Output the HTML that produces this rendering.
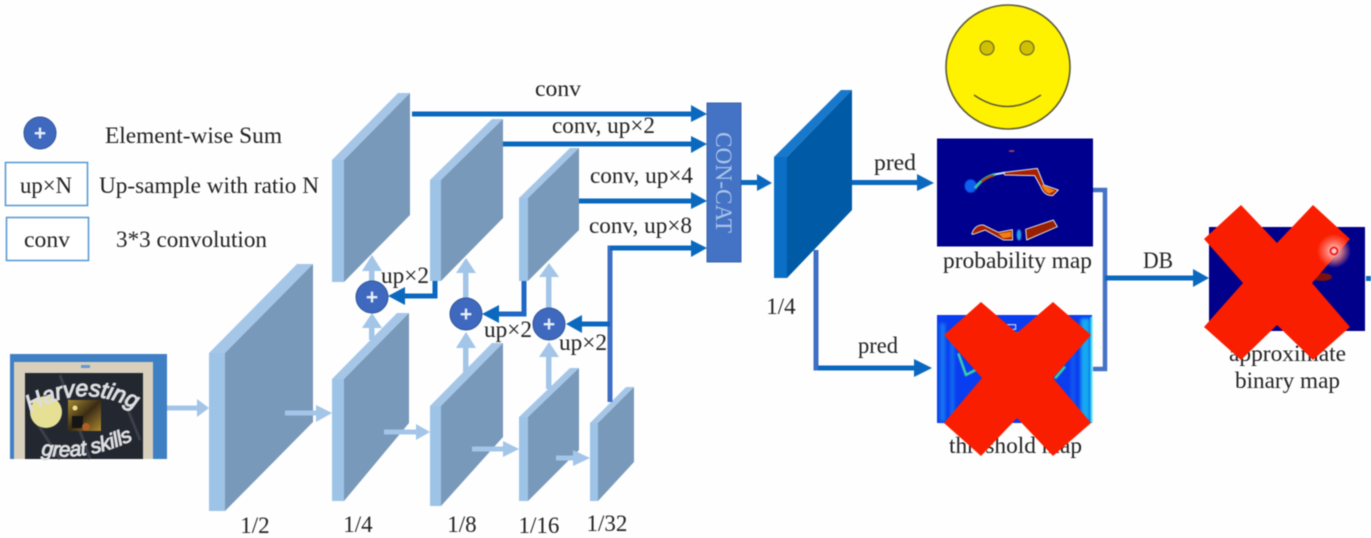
<!DOCTYPE html>
<html><head><meta charset="utf-8"><style>
html,body{margin:0;padding:0;background:#fff;width:1371px;height:538px;overflow:hidden}
svg{display:block;filter:blur(.5px)}
text{font-family:"Liberation Serif",serif;font-size:23px;fill:#222}
.s{fill:#9dc3e6}.t{fill:#a6c6e8}.f{fill:#7899ba}
.la{fill:#a3c5e8}.da{fill:#0a69bf}
.c{fill:#3f69bf;stroke:#2f5597;stroke-width:1}
.p{font-family:"Liberation Sans",sans-serif;font-size:21px;font-weight:bold;fill:#e8effa}
</style></head><body>
<svg width="1371" height="538" viewBox="0 0 1371 538" xmlns="http://www.w3.org/2000/svg">
<defs>
<radialGradient id="g"><stop offset="0" stop-color="#fff" stop-opacity=".95"/><stop offset=".5" stop-color="#ff8a80" stop-opacity=".75"/><stop offset="1" stop-color="#ff8a80" stop-opacity="0"/></radialGradient>
<linearGradient id="gold" x1="0" x2="1" y1="0" y2="1"><stop offset="0" stop-color="#a88a30"/><stop offset=".5" stop-color="#3a2c14"/><stop offset="1" stop-color="#b08a30"/></linearGradient>
<filter id="b2"><feGaussianBlur stdDeviation="1.2"/></filter>
<filter id="b3"><feGaussianBlur stdDeviation="5"/></filter>
<path id="h1" d="M30 412 Q85 380 140 412"/>
<path id="h2" d="M41 455 Q90 462 137 438"/>
</defs>
<rect width="1371" height="538" fill="#fefefe"/>

<!-- legend -->
<circle class="c" cx="40" cy="133" r="16"/><text class="p" x="40" y="140" text-anchor="middle">+</text>
<text x="105" y="143" textLength="177" lengthAdjust="spacingAndGlyphs">Element-wise Sum</text>
<rect x="5.5" y="162.5" width="82" height="43" fill="#fff" stroke="#5b9bd5" stroke-width="1.6"/>
<text x="20" y="193" textLength="52" lengthAdjust="spacingAndGlyphs">up×N</text>
<text x="99" y="193" textLength="220" lengthAdjust="spacingAndGlyphs">Up-sample with ratio N</text>
<rect x="6.5" y="217.5" width="82" height="43" fill="#fff" stroke="#5b9bd5" stroke-width="1.6"/>
<text x="24" y="247" textLength="46" lengthAdjust="spacingAndGlyphs">conv</text>
<text x="116" y="247" textLength="151" lengthAdjust="spacingAndGlyphs">3*3 convolution</text>

<!-- photo -->
<rect x="10" y="354" width="157" height="105" fill="#3f80c4"/>
<rect x="14" y="362" width="139" height="97" fill="#d8d0bc"/>
<rect x="10" y="366" width="4" height="93" fill="#3f80c4"/>
<rect x="25" y="373" width="118" height="86" fill="#23272f"/>
<rect x="81" y="365" width="9" height="3" fill="#5f9ad0"/>
<path d="M35 420L60 459M60 375L90 459M120 390L140 440" stroke="#3a3f4a" stroke-width="3" fill="none"/>
<circle cx="46" cy="412" r="16" fill="#e6e095"/>
<rect x="68" y="400" width="33" height="31" fill="url(#gold)"/>
<circle cx="75" cy="408" r="2.5" fill="#f0e090"/>
<rect x="72" y="416" width="11" height="12" fill="#151515"/>
<circle cx="86" cy="427" r="4" fill="#b06020"/>
<text style="font-family:'Liberation Sans',sans-serif;font-size:23px;font-style:italic;fill:#dcdde0;stroke:#dcdde0;stroke-width:1.1"><textPath href="#h1" textLength="110">Harvesting</textPath></text>
<text style="font-family:'Liberation Sans',sans-serif;font-size:21px;font-style:italic;fill:#dcdde0;stroke:#dcdde0;stroke-width:1"><textPath href="#h2" textLength="95">great skills</textPath></text>

<!-- lower layers -->
<polygon class="t" points="209,353 297,264 313,264 225,353"/><polygon class="s" points="209,353 225,353 225,511 209,511"/><polygon class="f" points="225,353 313,264 313,422 225,511"/>
<polygon class="t" points="332,379 397,313 409,313 344,379"/><polygon class="s" points="332,379 344,379 344,501 332,501"/><polygon class="f" points="344,379 409,313 409,423 344,501"/>
<polygon class="t" points="430,406 492,343 503,343 441,406"/><polygon class="s" points="430,406 441,406 441,506 430,506"/><polygon class="f" points="441,406 503,343 503,437 441,506"/>
<polygon class="t" points="519,417 570,368 579,368 528,417"/><polygon class="s" points="519,417 528,417 528,501 519,501"/><polygon class="f" points="528,417 579,368 579,450 528,501"/>
<polygon class="t" points="590,423 626,387 634,387 598,423"/><polygon class="s" points="590,423 598,423 598,501 590,501"/><polygon class="f" points="598,423 634,387 634,462 598,501"/>

<!-- upper layers -->
<polygon class="t" points="332,160 398,93 410,93 344,160"/><polygon class="s" points="332,160 344,160 344,282 332,282"/><polygon class="f" points="344,160 410,93 410,215 344,282"/>
<polygon class="t" points="430,180 492,119 503,119 441,180"/><polygon class="s" points="430,180 441,180 441,281 430,281"/><polygon class="f" points="441,180 503,119 503,218 441,281"/>
<polygon class="t" points="519,198 570,148 579,148 528,198"/><polygon class="s" points="519,198 528,198 528,281 519,281"/><polygon class="f" points="528,198 579,148 579,230 528,281"/>

<!-- light horizontal arrows -->
<g class="la">
<rect x="167" y="405.500" width="31" height="5"/><polygon points="197,399 209,408 197,417"/>
<rect x="285" y="410.500" width="32" height="5"/><polygon points="316,405 332,413 316,422"/>
<rect x="384" y="429.500" width="33" height="5"/><polygon points="416,424 430,432 416,440"/>
<rect x="472" y="446.500" width="32" height="5"/><polygon points="503,441 519,449 503,457"/>
<rect x="556" y="455.500" width="18" height="5"/><polygon points="573,450 590,458 573,466"/>
<rect x="369" y="270" width="5.500" height="12"/><polygon points="372,255 382,271 362,271"/>
<rect x="369" y="327" width="5.500" height="13"/><polygon points="372,313 382,328 362,328"/>
<rect x="463" y="272" width="5.500" height="26"/><polygon points="466,258 476,273 456,273"/>
<rect x="463" y="347" width="5.500" height="30"/><polygon points="466,332 476,348 456,348"/>
<rect x="546" y="276" width="5.500" height="33"/><polygon points="549,263 559,277 539,277"/>
<rect x="546" y="356" width="5.500" height="33"/><polygon points="549,342 559,357 539,357"/>
</g>

<!-- dark skip paths -->
<path d="M435 281V296H402" fill="none" stroke="#0a69bf" stroke-width="5"/>
<polygon class="da" points="388,296 405,287 405,305"/>
<path d="M524 281V314H496" fill="none" stroke="#1f68c4" stroke-width="5"/>
<polygon class="da" points="482,314 499,305 499,323"/>
<path d="M610 402V248H695" fill="none" stroke="#3f6fc4" stroke-width="5"/>
<path d="M610 248H695" fill="none" stroke="#0a69bf" stroke-width="5"/>
<path d="M610 324H578" fill="none" stroke="#0a69bf" stroke-width="5"/>
<polygon class="da" points="566,324 582,315 582,333"/>

<rect x="412" y="111.500" width="281" height="5" class="da"/><polygon class="da" points="691,105 707,114 691,122"/>
<rect x="503" y="141.500" width="190" height="5" class="da"/><polygon class="da" points="691,136 707,144 691,153"/>
<rect x="579" y="198.500" width="114" height="5" class="da"/><polygon class="da" points="691,192 707,201 691,209"/>
<polygon class="da" points="691,240 707,248 691,257"/>

<!-- circles -->
<circle class="c" cx="372" cy="297" r="16"/><text class="p" x="372" y="304" text-anchor="middle">+</text>
<circle class="c" cx="466" cy="314" r="16"/><text class="p" x="466" y="321" text-anchor="middle">+</text>
<circle class="c" cx="549" cy="324" r="16"/><text class="p" x="549" y="331" text-anchor="middle">+</text>

<!-- concat -->
<rect x="707" y="103" width="34" height="159" fill="#4472c4" stroke="#3a63ab"/>
<text transform="translate(716,132) rotate(90)" textLength="101" lengthAdjust="spacingAndGlyphs" style="fill:#a9c4ea">CON-CAT</text>
<rect x="741" y="180" width="18" height="5" class="da"/><polygon class="da" points="757,174 772,183 757,191"/>

<!-- dark layer -->
<path d="M816 250V368H916" fill="none" stroke="#3f6fc4" stroke-width="5"/>
<path d="M818 368H916" fill="none" stroke="#0a69bf" stroke-width="5"/>
<polygon fill="#1878cc" points="774,157 841,90 852,90 787,157"/>
<polygon fill="#0a6fc5" points="774,157 787,157 787,278 774,278"/>
<polygon fill="#005aa5" points="787,157 852,90 852,210 787,278"/>
<rect x="852" y="180" width="66" height="5" class="da"/><polygon class="da" points="917,174 934,183 917,191"/>
<polygon class="da" points="914,359 932,368 914,377"/>

<!-- bracket -->
<path d="M1093 190H1105V369H1093" fill="none" stroke="#4472c4" stroke-width="4.500"/>
<rect x="1105" y="275.500" width="90" height="5" class="da"/><polygon class="da" points="1193,269 1209,278 1193,287"/>

<!-- smiley -->
<circle cx="1008" cy="67" r="62" fill="#fff200" stroke="#5a5a3a" stroke-width="1.600"/>
<circle cx="987" cy="48" r="7" fill="#cfc000" stroke="#6a6a30" stroke-width="1.200"/>
<circle cx="1027" cy="48" r="7" fill="#cfc000" stroke="#6a6a30" stroke-width="1.200"/>
<path d="M974 95Q1007 118 1041 95" fill="none" stroke="#5a5a3a" stroke-width="1.500"/>

<!-- probability map -->
<rect x="937" y="138.500" width="156" height="108" fill="#00008e"/>
<g transform="translate(930,135) scale(.3333)">
<ellipse cx="245" cy="48" rx="9" ry="3" fill="#a04060"/>
<ellipse cx="122" cy="153" rx="18" ry="20" fill="#1060f0" filter="url(#b2)"/>
<path d="M135 160Q155 130 195 118" fill="none" stroke="#30c0a0" stroke-width="9"/>
<path d="M155 140Q170 128 190 122" fill="none" stroke="#b04010" stroke-width="7"/>
<path d="M195 118L225 113" fill="none" stroke="#d0e8ff" stroke-width="6"/>
<path d="M222 112L322 100L342 150L385 165L368 182Q342 182 332 155L314 122L224 120Z" fill="#a82000" stroke="#dce8f0" stroke-width="3" stroke-linejoin="round"/>
<path d="M335 148L375 167L358 176Q340 170 335 148Z" fill="#f08010"/>
<path d="M125 297Q135 268 160 270L205 292L247 284L248 315L220 315L165 285L130 298Z" fill="#a82000" stroke="#dce0d8" stroke-width="3" stroke-linejoin="round"/>
<path d="M205 296L243 290L244 306L220 310Z" fill="#f08010"/>
<path d="M287 283L370 255L382 275L290 315Z" fill="#982000" stroke="#dce0d8" stroke-width="3" stroke-linejoin="round"/>
<ellipse cx="267" cy="300" rx="7" ry="17" fill="#20a0f0" filter="url(#b2)"/>
</g>
<text x="943" y="268" textLength="149" lengthAdjust="spacingAndGlyphs">probability map</text>

<!-- threshold map -->
<rect x="937" y="315" width="155" height="108" fill="#0a3cf0"/>
<g transform="translate(930,310) scale(.3333)">
<g filter="url(#b3)">
<rect x="30" y="40" width="16" height="295" fill="#1878f0"/>
<rect x="62" y="70" width="10" height="265" fill="#1878f0"/>
<rect x="452" y="25" width="28" height="310" fill="#18a8f0"/>
<rect x="424" y="60" width="10" height="270" fill="#1860f0"/>
</g>
<rect x="481" y="20" width="6" height="318" fill="#30e0f0"/>
<path d="M85 130L108 195L140 178M250 72L285 68M405 170L375 205" fill="none" stroke="#40e0a0" stroke-width="7" filter="url(#b2)"/>
<rect x="233" y="44" width="24" height="14" fill="none" stroke="#dfe8ff" stroke-width="3"/>
</g>
<text x="949" y="453" textLength="133" lengthAdjust="spacingAndGlyphs">threshold map</text>
<polygon fill="#fa1e00" points="981,302 1017,333 1053,302 1091,335 1053,378 1091,423 1053,456 1017,418 981,456 944,423 982,378 944,335"/>

<!-- binary map -->
<rect x="1209" y="227" width="156" height="104" fill="#00008a"/>
<ellipse cx="1322" cy="277" rx="10" ry="4" fill="#7a1010"/>
<text x="1229" y="361" textLength="117" lengthAdjust="spacingAndGlyphs">approximate</text>
<text x="1235" y="388" textLength="105" lengthAdjust="spacingAndGlyphs">binary map</text>
<polygon fill="#fa1e00" points="1241,205 1277,243 1313,205 1350,239 1312,283 1350,327 1313,360 1277,325 1241,360 1204,327 1243,283 1204,239"/>
<circle cx="1334" cy="251" r="17" fill="url(#g)"/>
<circle cx="1334" cy="251" r="3.500" fill="#ffd0d0" stroke="#f02020" stroke-width="2"/>
<rect x="1366" y="276" width="5" height="5" fill="#0a69bf"/>

<!-- labels -->
<text x="535" y="96" textLength="46" lengthAdjust="spacingAndGlyphs">conv</text>
<text x="552" y="133" textLength="103" lengthAdjust="spacingAndGlyphs">conv, up×2</text>
<text x="590" y="183" textLength="103" lengthAdjust="spacingAndGlyphs">conv, up×4</text>
<text x="589" y="233" textLength="103" lengthAdjust="spacingAndGlyphs">conv, up×8</text>
<text x="381" y="283" textLength="48" lengthAdjust="spacingAndGlyphs">up×2</text>
<text x="484" y="337" textLength="48" lengthAdjust="spacingAndGlyphs">up×2</text>
<text x="559" y="350" textLength="48" lengthAdjust="spacingAndGlyphs">up×2</text>
<text x="874" y="170" textLength="42" lengthAdjust="spacingAndGlyphs">pred</text>
<text x="858" y="353" textLength="40" lengthAdjust="spacingAndGlyphs">pred</text>
<text x="1143" y="268" textLength="30" lengthAdjust="spacingAndGlyphs">DB</text>
<text x="255" y="533" text-anchor="middle">1/2</text>
<text x="358" y="532" text-anchor="middle">1/4</text>
<text x="462" y="532" text-anchor="middle">1/8</text>
<text x="539" y="533" text-anchor="middle">1/16</text>
<text x="607" y="531" text-anchor="middle">1/32</text>
<text x="781" y="314" text-anchor="middle">1/4</text>
</svg>
</body></html>
